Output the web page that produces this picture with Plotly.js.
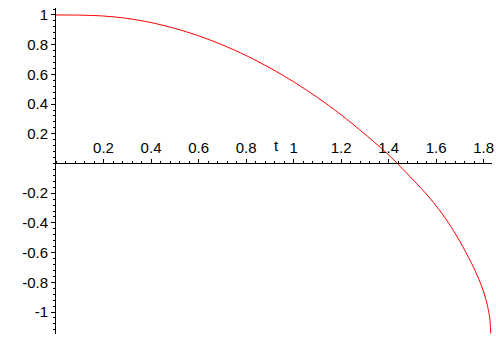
<!DOCTYPE html>
<html>
<head>
<meta charset="utf-8">
<script src="https://cdn.plot.ly/plotly-3.0.1.min.js"></script>
<style>
  html, body { margin: 0; padding: 0; background: white; }
  #myDiv { width: 496px; height: 346px; }
</style>
</head>
<body>
<div id="myDiv"></div>
<script>
// values
var tValues = [0, 0.1, 0.2, 0.3, 0.4, 0.5, 0.6, 0.7, 0.8, 0.9, 1.0, 1.1, 1.2, 1.3,
               1.4, 1.45, 1.5, 1.55, 1.6, 1.65, 1.7, 1.75, 1.78, 1.8, 1.815, 1.82, 1.825, 1.8275, 1.83];
var yValues = [1.0, 0.999, 0.993, 0.977, 0.949, 0.91, 0.86, 0.799, 0.727, 0.644, 0.55, 0.445, 0.328, 0.198,
               0.058, -0.022, -0.105, -0.19, -0.285, -0.395, -0.525, -0.675, -0.78, -0.865, -0.95, -0.99, -1.035, -1.08, -1.145];

var xTicks = [0.2, 0.4, 0.6, 0.8, 1, 1.2, 1.4, 1.6, 1.8];
var xTickText = ['0.2', '0.4', '0.6', '0.8', '1', '1.2', '1.4', '1.6', '1.8'];
var yTicks = [-1, -0.8, -0.6, -0.4, -0.2, 0.2, 0.4, 0.6, 0.8, 1];
var yTickText = ['-1', '-0.8', '-0.6', '-0.4', '-0.2', '0.2', '0.4', '0.6', '0.8', '1'];

var xRange = [0, 1.835];
var yRange = [-1.148, 1.047];

var trace1 = {
  x: tValues,
  y: yValues,
  type: 'scatter',
  mode: 'lines',
  line: { color: 'rgb(255, 0, 0)', width: 1, shape: 'spline', smoothing: 0.8 },
  hoverinfo: 'none',
  cliponaxis: false
};

var tickFont = { family: 'Liberation Sans, Arial, sans-serif', size: 15, color: 'black' };

var layout = {
  width: 496,
  height: 346,
  margin: { l: 56, r: 4, t: 8, b: 12 },
  showlegend: false,
  plot_bgcolor: 'white',
  paper_bgcolor: 'white',
  xaxis: {
    range: xRange,
    anchor: 'free',
    // x axis crosses the y axis at y = 0
    position: (0 - yRange[0]) / (yRange[1] - yRange[0]),
    side: 'top',
    showgrid: false,
    zeroline: false,
    showline: true,
    linecolor: 'black',
    linewidth: 1,
    tickmode: 'array',
    tickvals: xTicks,
    ticktext: xTickText,
    ticks: 'outside',
    ticklen: 4,
    tickwidth: 1,
    tickcolor: 'black',
    tickfont: tickFont,
    minor: { tick0: 0, dtick: 0.04, ticks: 'outside', ticklen: 2, tickcolor: 'black', showgrid: false }
  },
  yaxis: {
    range: yRange,
    showgrid: false,
    zeroline: false,
    showline: true,
    linecolor: 'black',
    linewidth: 1,
    tickmode: 'array',
    tickvals: yTicks,
    ticktext: yTickText,
    ticks: 'outside',
    ticklen: 4,
    tickwidth: 1,
    tickcolor: 'black',
    tickfont: tickFont,
    minor: { tick0: 0, dtick: 0.04, ticks: 'outside', ticklen: 2, tickcolor: 'black', showgrid: false }
  },
  annotations: [
    { text: 'y', x: -0.17, y: 0.5, xref: 'x', yref: 'y', showarrow: false,
      font: tickFont },
    { text: 't', x: 0.93, y: 0.12, xref: 'x', yref: 'y', showarrow: false,
      font: tickFont }
  ]
};

Plotly.newPlot('myDiv', [trace1], layout, { displayModeBar: false, staticPlot: true });
</script>
</body>
</html>
